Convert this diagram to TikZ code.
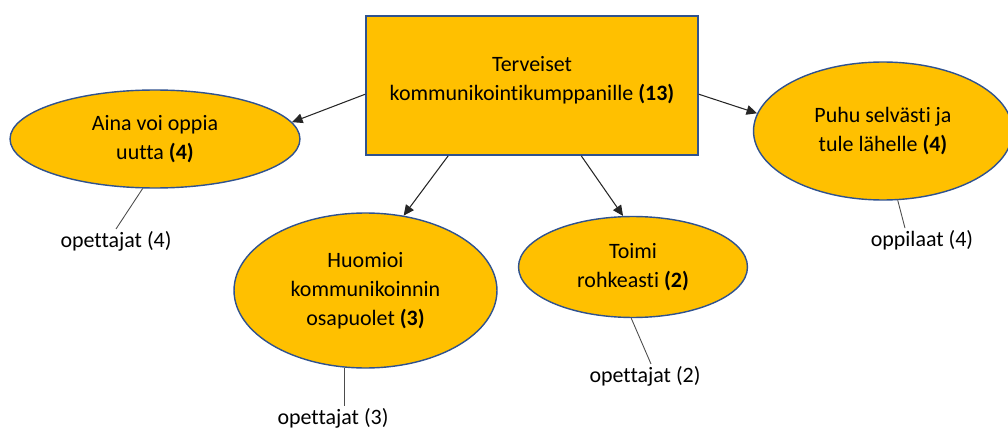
\documentclass[tikz,border=0pt]{standalone}
\usepackage{fontspec}
\setmainfont{Carlito}[Ligatures=NoCommon]
\usetikzlibrary{arrows.meta, positioning, shapes.geometric, calc}
\definecolor{ofgold}{RGB}{255,192,0}
\definecolor{ofblue}{RGB}{47,82,143}

\begin{document}
\begin{tikzpicture}[x=0.02cm, y=-0.02cm,
    txt/.style={font=\fontsize{12.5}{16.6}\selectfont, align=center},
    mainbox/.style={txt, draw=ofblue, line width=1pt, fill=ofgold, rectangle,
        minimum width=6.64cm, minimum height=2.78cm},
    topic/.style={txt, draw=ofblue, line width=0.8pt, fill=ofgold, ellipse, inner sep=0pt},
    who/.style={txt, inner sep=1pt},
    link/.style={-{Triangle[length=6pt, width=5.5pt]}, draw=black!85, line width=0.6pt},
    tie/.style={draw=black!70, line width=0.5pt}]
    \useasboundingbox (0,0) rectangle (1008,429);

    % main box
    \node[mainbox] (box) at (532,85.5) {Terveiset\\kommunikointikumppanille \textbf{(13)}\\[-9pt]\mbox{}};

    % topics
    \node[topic, minimum width=5.8cm, minimum height=1.96cm] (aina) at (155,139)
        {Aina voi oppia\\uutta \textbf{(4)}};
    \node[topic, minimum width=5.26cm, minimum height=3.1cm] (hum) at (365.5,290.5)
        {Huomioi\\kommunikoinnin\\osapuolet \textbf{(3)}};
    \node[topic, minimum width=4.58cm, minimum height=2.02cm] (toimi) at (633,267)
        {Toimi\\rohkeasti \textbf{(2)}};
    \node[topic, minimum width=5.18cm, minimum height=2.76cm] (puhu) at (883,131)
        {Puhu selvästi ja\\tule lähelle \textbf{(4)}};

    % who said it
    \node[who] (lab1) at (116,241) {opettajat (4)};
    \node[who] (lab3) at (333,418) {opettajat (3)};
    \node[who] (lab2) at (645,376) {opettajat (2)};
    \node[who] (lab4) at (922,240) {oppilaat (4)};

    \draw[link] (box.183) -- (aina.7);
    \draw[link] (box.220) -- (hum.63);
    \draw[link] (box.305) -- (toimi.101);
    \draw[link] (box.357) -- (puhu.172);

    \draw[tie] (aina.256) -- (lab1.north);
    \draw[tie] (hum.255) -- (hum.255 |- lab3.north);
    \draw[tie] (toimi.268) -- ($(lab2.north)+(6,0)$);
    \draw[tie] (puhu.282) -- ($(lab4.north)+(-17,0)$);
\end{tikzpicture}
\end{document}
